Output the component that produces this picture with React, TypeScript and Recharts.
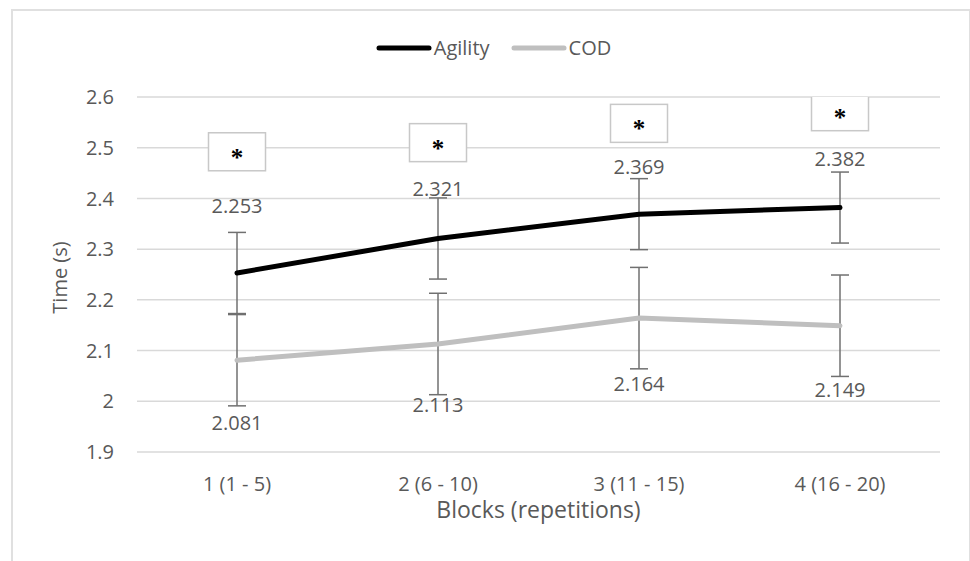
import { LineChart, Line, XAxis, YAxis, CartesianGrid, ErrorBar, LabelList, Legend } from 'recharts';

const blocks = ['1 (1 - 5)', '2 (6 - 10)', '3 (11 - 15)', '4 (16 - 20)'];
const agility = [2.253, 2.321, 2.369, 2.382];
const agilitySd = [0.08, 0.08, 0.07, 0.07];
const cod = [2.081, 2.113, 2.164, 2.149];
const codSd = [0.09, 0.1, 0.1, 0.1];
// height of the "*" significance boxes, in axis units
const sigMarks = [2.492, 2.51, 2.548, 2.571];
const yTicks = [1.9, 2, 2.1, 2.2, 2.3, 2.4, 2.5, 2.6];

// label nudges (px from the point), as placed in the original
const agilityLabelDy = [-67, -49, -47, -49];
const codLabelDy = [63, 61, 66, 64];

const data = blocks.map((block, i) => ({
  block,
  agility: agility[i],
  agilitySd: agilitySd[i],
  cod: cod[i],
  codSd: codSd[i],
  sig: sigMarks[i],
}));

const FONT = 'Open Sans';
const TEXT = '#595959';

const makeLabel = (dys: number[]) => (p: any) => (
  <text
    key={`lbl-${p.index}`}
    x={p.x}
    y={p.y + (dys[p.index] ?? 0) + 7}
    textAnchor="middle"
    fill={TEXT}
    fontSize={20}
    fontFamily={FONT}
  >
    {p.value}
  </text>
);

const renderSigBox = (p: any) => {
  const { cx, cy, index } = p;
  if (cx == null || cy == null) return <g key={`sig-${index}`} />;
  return (
    <g key={`sig-${index}`}>
      <rect x={cx - 28.5} y={cy - 19} width={57} height={38} fill="#fff" stroke="#c8c8c8" strokeWidth={1.5} />
      <text x={cx} y={cy + 14} textAnchor="middle" fontSize={25} fontWeight="bold" fontFamily="Liberation Serif" fill="#000">
        *
      </text>
    </g>
  );
};

const legendItems = [
  { name: 'Agility', color: '#000000' },
  { name: 'COD', color: '#bfbfbf' },
];

const renderLegend = () => (
  <div
    style={{
      display: 'flex',
      justifyContent: 'center',
      alignItems: 'center',
      height: 24,
      lineHeight: '24px',
      fontFamily: FONT,
      fontSize: 20,
      color: TEXT,
    }}
  >
    {legendItems.map((it, i) => (
      <div key={it.name} style={{ display: 'flex', alignItems: 'center', marginRight: i === 0 ? 21 : 0 }}>
        <svg width={56} height={8} style={{ display: 'block' }}>
          <line x1={3} y1={4} x2={53} y2={4} stroke={it.color} strokeWidth={5} strokeLinecap="round" />
        </svg>
        <span style={{ marginLeft: 2 }}>{it.name}</span>
      </div>
    ))}
  </div>
);

export default function App() {
  return (
    <div style={{ position: 'fixed', left: 0, top: 0, width: 970, height: 561, background: '#fff', overflow: 'hidden' }}>
      <div
        style={{
          position: 'absolute',
          left: 11,
          top: 9,
          width: 956,
          height: 600,
          border: '2px solid #e0e0e0',
          borderBottom: 'none',
        }}
      />
      <div style={{ position: 'absolute', left: 0, top: 0 }}>
        <LineChart width={970} height={561} data={data} margin={{ top: 73, right: 30, bottom: 39, left: 10 }}>
          <CartesianGrid vertical={false} stroke="#d9d9d9" strokeWidth={1.5} />
          <XAxis
            dataKey="block"
            axisLine={false}
            tickLine={false}
            tickSize={0}
            tickMargin={25}
            height={70}
            interval={0}
            padding={{ left: 100, right: 100 }}
            tick={{ fill: TEXT, fontSize: 20, fontFamily: FONT }}
            label={{
              content: ({ viewBox }: any) => (
                <text
                  x={viewBox.x + viewBox.width / 2}
                  y={viewBox.y + 66}
                  textAnchor="middle"
                  fill={TEXT}
                  fontSize={23}
                  fontFamily={FONT}
                >
                  Blocks (repetitions)
                </text>
              ),
            }}
          />
          <YAxis
            domain={[1.9, 2.6]}
            ticks={yTicks}
            width={127}
            axisLine={false}
            tickLine={false}
            tickSize={0}
            tickMargin={23}
            allowDataOverflow
            tickFormatter={(v: number) => String(Number(v.toFixed(1)))}
            tick={{ fill: TEXT, fontSize: 20, fontFamily: FONT }}
            label={{
              content: ({ viewBox }: any) => {
                const x = viewBox.x + 57;
                const y = viewBox.y + viewBox.height / 2 + 3;
                return (
                  <text x={x} y={y} transform={`rotate(-90 ${x} ${y})`} textAnchor="middle" fill={TEXT} fontSize={20} fontFamily={FONT}>
                    Time (s)
                  </text>
                );
              },
            }}
          />
          <Legend verticalAlign="top" content={renderLegend} wrapperStyle={{ top: 36, left: 0, width: 987 }} />
          <Line
            dataKey="sig"
            stroke="none"
            isAnimationActive={false}
            dot={renderSigBox}
            activeDot={false}
            legendType="none"
          />
          <Line
            dataKey="cod"
            name="COD"
            stroke="#bfbfbf"
            strokeWidth={5}
            strokeLinecap="round"
            dot={false}
            activeDot={false}
            isAnimationActive={false}
          >
            <ErrorBar dataKey="codSd" direction="y" width={9} stroke="#707070" strokeWidth={1.5} />
            <LabelList dataKey="cod" content={makeLabel(codLabelDy)} />
          </Line>
          <Line
            dataKey="agility"
            name="Agility"
            stroke="#000000"
            strokeWidth={5}
            strokeLinecap="round"
            dot={false}
            activeDot={false}
            isAnimationActive={false}
          >
            <ErrorBar dataKey="agilitySd" direction="y" width={9} stroke="#707070" strokeWidth={1.5} />
            <LabelList dataKey="agility" content={makeLabel(agilityLabelDy)} />
          </Line>
        </LineChart>
      </div>
    </div>
  );
}
